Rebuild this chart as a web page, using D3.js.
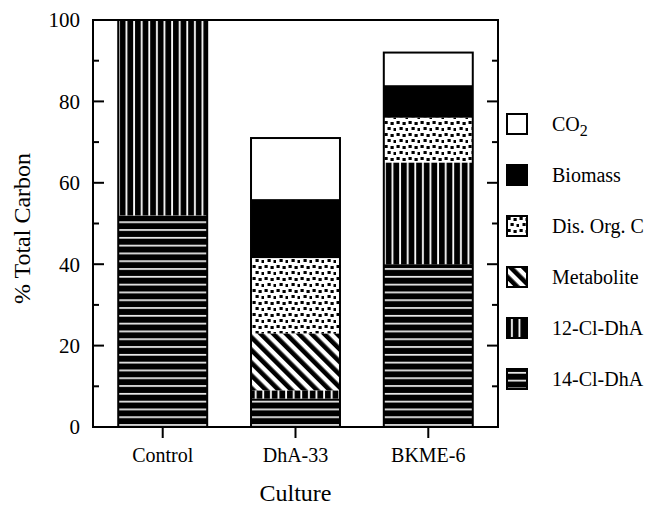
<!DOCTYPE html>
<html>
<head>
<meta charset="utf-8">
<script src="https://cdn.jsdelivr.net/npm/d3@7"></script>
<style>
    body { margin: 0; background: #fff; }
    text { font-family: "Liberation Serif", "Times New Roman", serif; fill: #000; }
</style>
</head>
<body>
<div id="chart"></div>
<script>
// data (% of total carbon)
const cultures = ["Control", "DhA-33", "BKME-6"]
const components = ["14-Cl-DhA", "12-Cl-DhA", "Metabolite", "Dis. Org. C", "Biomass", "CO2"]
const cl14 = [52, 7, 40]
const cl12 = [48, 2, 25]
const metabolite = [0, 14, 0]
const disOrgC = [0, 18.5, 11]
const biomass = [0, 14.5, 8]
const co2 = [0, 15, 8]
const yTicks = [0, 20, 40, 60, 80, 100]

const width = 649, height = 509
const margin = { top: 20, right: 151, bottom: 82, left: 93 }

const svg = d3.select("#chart")
    .append("svg")
    .attr("width", width)
    .attr("height", height)

const defs = svg.append("defs")

// horizontal white lines on black
let p = defs.append("pattern").attr("id", "pHoriz")
    .attr("patternUnits", "userSpaceOnUse").attr("width", 8).attr("height", 7.8)
p.append("rect").attr("width", 8).attr("height", 7.8).attr("fill", "#000")
p.append("rect").attr("y", 3).attr("width", 8).attr("height", 1.6).attr("fill", "#fff")

// vertical white lines on black
p = defs.append("pattern").attr("id", "pVert")
    .attr("patternUnits", "userSpaceOnUse").attr("width", 7.6).attr("height", 8)
    .attr("x", 1)
p.append("rect").attr("width", 7.6).attr("height", 8).attr("fill", "#000")
p.append("rect").attr("x", 3).attr("width", 1.8).attr("height", 8).attr("fill", "#fff")

// diagonal stripes
p = defs.append("pattern").attr("id", "pDiag")
    .attr("patternUnits", "userSpaceOnUse").attr("width", 9).attr("height", 9)
    .attr("patternTransform", "rotate(-45)")
p.append("rect").attr("width", 9).attr("height", 9).attr("fill", "#fff")
p.append("rect").attr("width", 4.6).attr("height", 9).attr("fill", "#000")

// scattered squares
p = defs.append("pattern").attr("id", "pDots")
    .attr("patternUnits", "userSpaceOnUse").attr("width", 12).attr("height", 12)
p.append("rect").attr("width", 12).attr("height", 12).attr("fill", "#fff")
const dots = [[0.5, 1], [6.5, 2], [3.5, 7], [9.5, 8]]
p.selectAll("rect.d").data(dots).enter().append("rect")
    .attr("class", "d")
    .attr("x", d => d[0]).attr("y", d => d[1])
    .attr("width", 3.2).attr("height", 3)
    .attr("fill", "#000")

const fills = {
    "14-Cl-DhA": "url(#pHoriz)",
    "12-Cl-DhA": "url(#pVert)",
    "Metabolite": "url(#pDiag)",
    "Dis. Org. C": "url(#pDots)",
    "Biomass": "#000",
    "CO2": "#fff"
}

const table = cultures.map((c, i) => ({
    culture: c,
    "14-Cl-DhA": cl14[i],
    "12-Cl-DhA": cl12[i],
    "Metabolite": metabolite[i],
    "Dis. Org. C": disOrgC[i],
    "Biomass": biomass[i],
    "CO2": co2[i]
}))

const series = d3.stack().keys(components)(table)

const x = d3.scaleBand()
    .domain(cultures)
    .range([margin.left, width - margin.right])
    .paddingInner(0.33)
    .paddingOuter(0.19)

const y = d3.scaleLinear()
    .domain([0, 100])
    .range([height - margin.bottom, margin.top])

// bars
svg.append("g")
    .selectAll("g")
    .data(series)
    .enter()
    .append("g")
    .attr("fill", d => fills[d.key])
    .selectAll("rect")
    .data(d => d.filter(s => s[1] - s[0] > 0))
    .enter()
    .append("rect")
    .attr("x", d => x(d.data.culture))
    .attr("y", d => y(d[1]))
    .attr("width", x.bandwidth())
    .attr("height", d => y(d[0]) - y(d[1]))

// outline of each stack
svg.append("g")
    .selectAll("rect")
    .data(table)
    .enter()
    .append("rect")
    .attr("x", d => x(d.culture))
    .attr("y", d => y(d3.sum(components, k => d[k])))
    .attr("width", x.bandwidth())
    .attr("height", d => y(0) - y(d3.sum(components, k => d[k])))
    .attr("fill", "none")
    .attr("stroke", "#000")
    .attr("stroke-width", 2)

// frame
const x0 = margin.left, x1 = width - margin.right
svg.append("rect")
    .attr("x", x0).attr("y", y(100))
    .attr("width", x1 - x0).attr("height", y(0) - y(100))
    .attr("fill", "none").attr("stroke", "#000").attr("stroke-width", 2)

// y ticks, inside on both sides
const minor = d3.range(10, 100, 20)
const yAxis = svg.append("g")
yAxis.selectAll("line.maj").data(yTicks).enter().append("line")
    .attr("x1", x0).attr("x2", x0 + 11)
    .attr("y1", d => y(d)).attr("y2", d => y(d))
    .attr("stroke", "#000").attr("stroke-width", 2)
yAxis.selectAll("line.min").data(minor).enter().append("line")
    .attr("x1", x0).attr("x2", x0 + 6)
    .attr("y1", d => y(d)).attr("y2", d => y(d))
    .attr("stroke", "#000").attr("stroke-width", 2)
yAxis.selectAll("line.rmaj").data(yTicks).enter().append("line")
    .attr("x1", x1).attr("x2", x1 - 11)
    .attr("y1", d => y(d)).attr("y2", d => y(d))
    .attr("stroke", "#000").attr("stroke-width", 2)
yAxis.selectAll("line.rmin").data(minor).enter().append("line")
    .attr("x1", x1).attr("x2", x1 - 6)
    .attr("y1", d => y(d)).attr("y2", d => y(d))
    .attr("stroke", "#000").attr("stroke-width", 2)
yAxis.selectAll("text").data(yTicks).enter().append("text")
    .attr("x", x0 - 13)
    .attr("y", d => y(d))
    .attr("dy", "0.35em")
    .attr("text-anchor", "end")
    .attr("font-size", 21)
    .text(d => d)

// x ticks, outside
const xAxis = svg.append("g")
xAxis.selectAll("line").data(cultures).enter().append("line")
    .attr("x1", d => x(d) + x.bandwidth() / 2)
    .attr("x2", d => x(d) + x.bandwidth() / 2)
    .attr("y1", y(0)).attr("y2", y(0) + 11)
    .attr("stroke", "#000").attr("stroke-width", 2)
xAxis.selectAll("text").data(cultures).enter().append("text")
    .attr("x", d => x(d) + x.bandwidth() / 2)
    .attr("y", y(0) + 35)
    .attr("text-anchor", "middle")
    .attr("font-size", 20)
    .text(d => d)

// axis titles
svg.append("text")
    .attr("transform", `translate(30,${(y(0) + y(100)) / 2 + 5}) rotate(-90)`)
    .attr("text-anchor", "middle")
    .attr("font-size", 24)
    .text("% Total Carbon")

svg.append("text")
    .attr("x", (x0 + x1) / 2)
    .attr("y", 501)
    .attr("text-anchor", "middle")
    .attr("font-size", 24)
    .text("Culture")

// legend, top to bottom
const legendKeys = components.slice().reverse()
const legend = svg.append("g")
    .selectAll("g")
    .data(legendKeys)
    .enter()
    .append("g")
    .attr("transform", (d, i) => `translate(507,${114 + i * 51})`)

legend.append("rect")
    .attr("width", 20).attr("height", 20)
    .attr("fill", d => fills[d])
    .attr("stroke", "#000").attr("stroke-width", 2)

legend.append("text")
    .attr("x", 45)
    .attr("y", 10)
    .attr("dy", "0.35em")
    .attr("font-size", 20)
    .each(function (d) {
        const t = d3.select(this)
        if (d === "CO2") {
            t.append("tspan").text("CO")
            t.append("tspan").attr("dy", 5).attr("font-size", 16).text("2")
        } else {
            t.text(d)
        }
    })
</script>
</body>
</html>
